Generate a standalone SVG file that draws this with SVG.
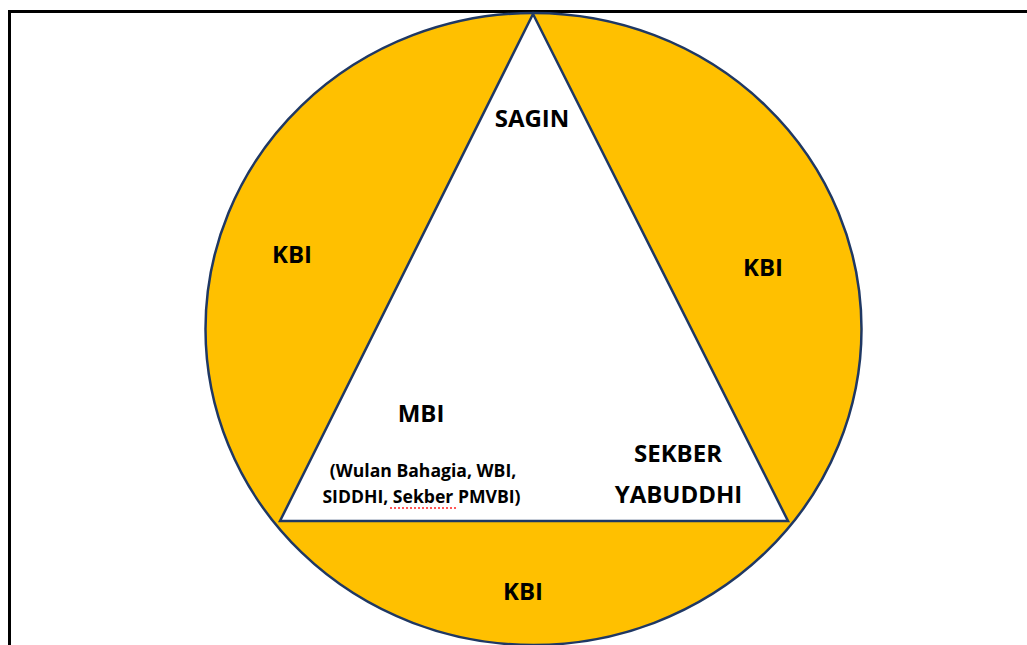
<svg xmlns="http://www.w3.org/2000/svg" width="1027" height="645" viewBox="0 0 1027 645">
<style>
.t{font-family:"Open Sans","Liberation Sans",sans-serif;font-weight:bold;fill:#000;text-anchor:middle}
.big{font-size:24px}
.small{font-size:17.6px}
.shape{stroke:#1f3864;stroke-width:2.5}
</style>
<rect x="0" y="0" width="1027" height="645" fill="#fff"/>
<path d="M9.5 660 V11.5 H1040" fill="none" stroke="#000" stroke-width="3"/>
<g id="circle">
<ellipse class="shape" cx="533.5" cy="329" rx="328" ry="316" fill="#ffc000"/>
</g>
<g id="triangle">
<polygon class="shape" points="533,14 280,521 788,521" fill="#fff" stroke-linejoin="miter"/>
</g>
<g id="labels">
<text class="t big" x="532" y="127">SAGIN</text>
<text class="t big" x="292" y="263">KBI</text>
<text class="t big" x="763" y="276">KBI</text>
<text class="t big" x="523" y="600">KBI</text>
<text class="t big" x="421" y="422">MBI</text>
<text class="t small" x="423" y="477">(Wulan Bahagia, WBI,</text>
<text class="t small" x="421.5" y="503">SIDDHI, Sekber PMVBI)</text>
<text class="t big" x="678" y="462">SEKBER</text>
<text class="t big" x="678.5" y="503">YABUDDHI</text>
<path d="M390 508 H458" stroke="#ff2020" stroke-width="1.5" stroke-dasharray="2 2" fill="none"/>
</g>
<g id="connectors"/>
</svg>
